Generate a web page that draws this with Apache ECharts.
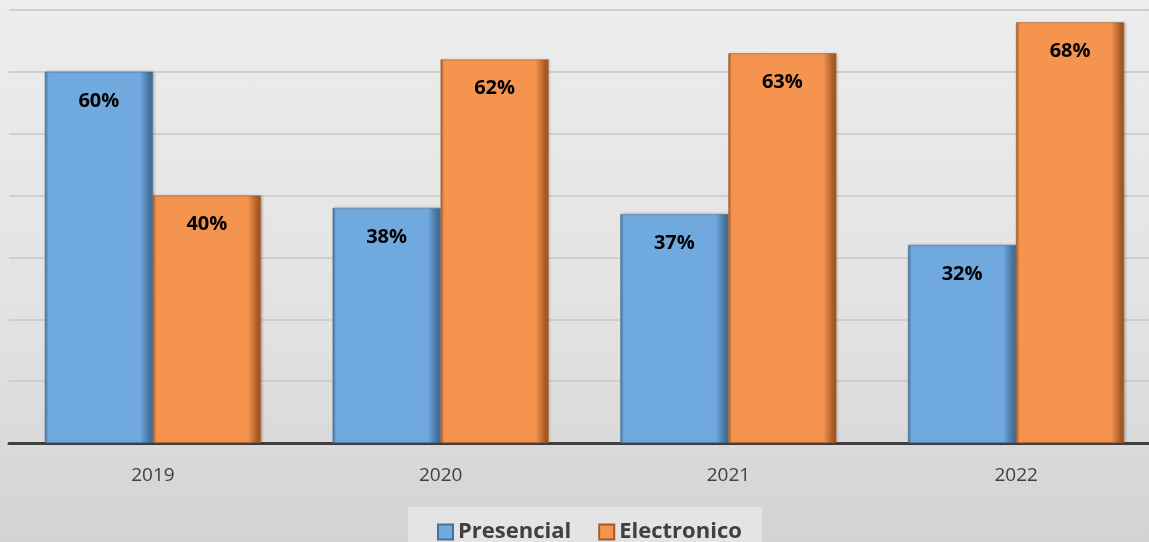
<!DOCTYPE html>
<html>
<head>
<meta charset="utf-8">
<script src="https://cdn.jsdelivr.net/npm/echarts@6/dist/echarts.min.js"></script>
<style>
  html, body { margin: 0; padding: 0; }
  #chart {
    width: 1149px; height: 542px;
    background: linear-gradient(to bottom, #ededed 0%, #e2e2e2 60%, #d3d3d3 100%);
  }
</style>
</head>
<body>
<div id="chart"></div>
<script>
  // ----- data -----
  const years = ['2019', '2020', '2021', '2022'];
  const presencial = [60, 38, 37, 32];
  const electronico = [40, 62, 63, 68];

  // ----- styles -----
  // fake bevel: dark edges left/right with flat middle
  function barFill(base, dark) {
    return new echarts.graphic.LinearGradient(0, 0, 1, 0, [
      { offset: 0, color: dark },
      { offset: 0.03, color: base },
      { offset: 0.88, color: base },
      { offset: 0.97, color: dark },
      { offset: 1, color: dark }
    ]);
  }

  const labelStyle = {
    show: true,
    position: 'insideTop',
    distance: 19,
    formatter: '{c}%',
    color: '#000',
    fontSize: 20,
    fontWeight: 'bold',
    fontFamily: 'Open Sans'
  };

  function barSeries(name, data, base, dark) {
    return {
      name,
      type: 'bar',
      data,
      barWidth: 108,
      barGap: '0%',
      label: labelStyle,
      itemStyle: {
        color: barFill(base, dark),
        borderColor: dark,
        borderWidth: 0.5,
        shadowBlur: 3,
        shadowColor: 'rgba(0,0,0,0.25)',
        shadowOffsetX: 1
      }
    };
  }

  const chart = echarts.init(document.getElementById('chart'), null, { renderer: 'canvas' });
  chart.setOption({
    animation: false,
    grid: {
      left: 9, width: 1151, top: 10, bottom: 99,
      containLabel: false, outerBoundsMode: 'none'
    },
    legend: {
      data: ['Presencial', 'Electronico'],
      left: 408,
      top: 507,
      padding: [14, 20, 10, 29],
      backgroundColor: '#e4e4e4',
      itemWidth: 15,
      itemHeight: 15,
      itemGap: 27,
      icon: 'rect',
      textStyle: { fontSize: 22, fontWeight: 'bold', color: '#404040', fontFamily: 'Open Sans' }
    },
    xAxis: {
      type: 'category',
      data: years,
      axisLine: { lineStyle: { color: '#404040', width: 3 } },
      axisTick: { show: false },
      axisLabel: { color: '#404040', fontSize: 19, margin: 23, fontFamily: 'Open Sans' }
    },
    yAxis: {
      type: 'value',
      min: 0,
      max: 70,
      interval: 10,
      axisLine: { show: false },
      axisTick: { show: false },
      axisLabel: { show: false },
      splitLine: { lineStyle: { color: '#cfcfcf', width: 2 } }
    },
    series: [
      barSeries('Presencial', presencial, '#70a9de', '#44719b'),
      barSeries('Electronico', electronico, '#f4944f', '#a55a25')
    ]
  });
</script>
</body>
</html>
